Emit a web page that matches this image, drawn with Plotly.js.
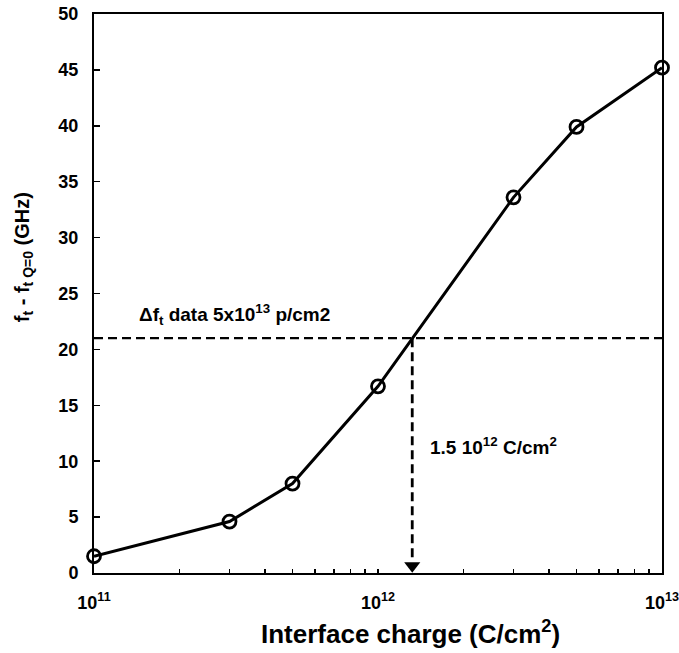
<!DOCTYPE html>
<html><head><meta charset="utf-8">
<script src="https://cdn.plot.ly/plotly-3.0.1.min.js"></script>
<style>html,body{margin:0;padding:0;background:#fff}</style>
</head><body>
<div id="chart" style="width:679px;height:653px"></div>
<script>
const charge = [1e11, 3e11, 5e11, 1e12, 3e12, 5e12, 1e13];
const deltaFt = [1.5, 4.6, 8.0, 16.7, 33.6, 39.9, 45.2];
const refLevel = 21;          // Δf_t measured at 5x10^13 p/cm2
const crossCharge = 1.32e12;  // where curve crosses reference
const xTickVals = [];
const xTickText = [];
[1e11, 1e12].forEach(d => { for (let k = 1; k <= 9; k++) { xTickVals.push(d * k); xTickText.push(k === 1 ? (d === 1e11 ? '10<sup>11</sup>' : '10<sup>12</sup>') : ''); } });
xTickVals.push(1e13); xTickText.push('10<sup>13</sup>');
const yTickVals = [0, 5, 10, 15, 20, 25, 30, 35, 40, 45, 50];

const FONT = 'Arial, "Liberation Sans", sans-serif';

const traces = [
  { x: [1e11, 1e13], y: [refLevel, refLevel], mode: 'lines', line: {color: '#000', width: 2.2, dash: '9px,5px'}, hoverinfo: 'skip' },
  { x: [crossCharge, crossCharge], y: [refLevel, 1.4], mode: 'lines', line: {color: '#000', width: 2.8, dash: '9px,5px'}, hoverinfo: 'skip' },
  { x: [crossCharge], y: [0.65], mode: 'markers', marker: {symbol: 'triangle-down', size: 14, color: '#000'}, hoverinfo: 'skip' },
  { x: charge, y: deltaFt, mode: 'lines+markers', line: {color: '#000', width: 3},
    marker: {symbol: 'circle-open', size: 13, color: '#000', line: {width: 2.8, color: '#000'}}, cliponaxis: false }
];

const layout = {
  width: 679, height: 653,
  margin: {l: 94, r: 17, t: 14, b: 80},
  paper_bgcolor: '#fff', plot_bgcolor: '#fff',
  showlegend: false,
  font: {family: FONT, color: '#000', size: 18, weight: 'bold'},
  xaxis: {
    type: 'log', range: [11, 13], tickmode: 'array', tickvals: xTickVals, ticktext: xTickText,
    ticks: 'inside', ticklen: 4, tickwidth: 1.5, tickcolor: '#000', ticklabeloverflow: 'allow',
    showline: true, mirror: true, linecolor: '#000', linewidth: 2, showgrid: false, zeroline: false,
    tickfont: {family: FONT, size: 18, weight: 'bold'}, ticklabelstandoff: 12
  },
  yaxis: {
    range: [0, 50], tickmode: 'array', tickvals: yTickVals,
    ticks: 'inside', ticklen: 6, tickwidth: 1.5, tickcolor: '#000', ticklabeloverflow: 'allow',
    showline: true, mirror: true, linecolor: '#000', linewidth: 2, showgrid: false, zeroline: false,
    tickfont: {family: FONT, size: 18, weight: 'bold'}, ticklabelstandoff: 10
  },
  annotations: [
    { xref: 'paper', yref: 'paper', x: 0.558, y: -0.107, xanchor: 'center', yanchor: 'middle', showarrow: false,
      text: 'Interface charge (C/cm<sup>2</sup>)', font: {family: FONT, size: 26, weight: 'bold'} },
    { xref: 'paper', yref: 'paper', x: -0.125, y: 0.565, xanchor: 'center', yanchor: 'middle', textangle: -90, showarrow: false,
      text: 'f<sub>t</sub> - f<sub>t Q=0</sub> (GHz)', font: {family: FONT, size: 20, weight: 'bold'} },
    { xref: 'x', yref: 'y', x: Math.log10(1.42e11), y: refLevel, xanchor: 'left', yanchor: 'bottom', yshift: 8, showarrow: false,
      text: 'Δf<sub>t</sub> data 5x10<sup>13</sup> p/cm2', font: {family: FONT, size: 19, weight: 'bold'} },
    { xref: 'x', yref: 'y', x: Math.log10(1.5e12), y: 11.4, xanchor: 'left', yanchor: 'middle', showarrow: false,
      text: '1.5 10<sup>12</sup> C/cm<sup>2</sup>', font: {family: FONT, size: 19, weight: 'bold'} }
  ]
};
Plotly.newPlot('chart', traces, layout, {displayModeBar: false, staticPlot: true});
</script>
</body></html>
